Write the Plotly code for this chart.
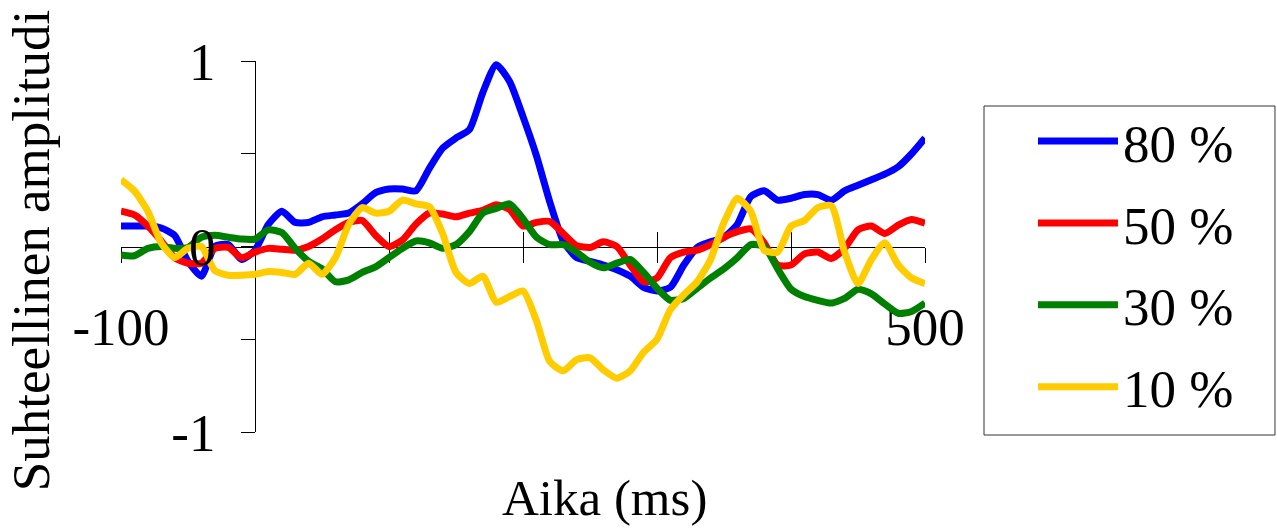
import plotly.graph_objects as go

# ---- data ----
time_ms = list(range(-100, 501, 10))

amp_80 = [0.11, 0.11, 0.11, 0.10, 0.06, -0.08, -0.16, 0.00, 0.01, -0.07,
          -0.02, 0.12, 0.19, 0.13, 0.13, 0.16, 0.17, 0.18, 0.23, 0.29,
          0.31, 0.31, 0.30, 0.42, 0.53, 0.585, 0.63, 0.83, 0.98, 0.89,
          0.70, 0.49, 0.24, 0.03, -0.06, -0.08, -0.10, -0.125, -0.16, -0.22,
          -0.24, -0.22, -0.10, -0.005, 0.025, 0.05, 0.12, 0.27, 0.30, 0.25,
          0.26, 0.28, 0.28, 0.25, 0.30, 0.33, 0.36, 0.39, 0.43, 0.50, 0.585]

amp_50 = [0.19, 0.17, 0.11, 0.03, -0.06, -0.09, -0.09, -0.01, -0.005, -0.06,
          -0.03, -0.01, -0.015, -0.02, 0.0, 0.04, 0.09, 0.13, 0.14, 0.06,
          0.0, 0.035, 0.12, 0.18, 0.175, 0.16, 0.18, 0.195, 0.225, 0.20,
          0.11, 0.13, 0.135, 0.07, 0.005, -0.005, 0.025, 0.0, -0.10, -0.19,
          -0.17, -0.06, -0.03, -0.02, 0.01, 0.05, 0.08, 0.095, 0.02, -0.10,
          -0.10, -0.04, -0.03, -0.065, -0.01, 0.09, 0.11, 0.07, 0.115, 0.145, 0.125]

amp_30 = [-0.045, -0.05, -0.01, 0.0, -0.01, -0.005, 0.05, 0.06, 0.05, 0.04,
          0.04, 0.09, 0.075, -0.01, -0.08, -0.12, -0.19, -0.18, -0.14, -0.11,
          -0.06, -0.01, 0.03, 0.02, -0.01, 0.01, 0.08, 0.18, 0.205, 0.23,
          0.15, 0.05, 0.01, 0.01, -0.03, -0.085, -0.115, -0.09, -0.07, -0.14,
          -0.225, -0.29, -0.28, -0.225, -0.17, -0.12, -0.06, 0.01, 0.0, -0.12,
          -0.23, -0.27, -0.29, -0.305, -0.28, -0.23, -0.255, -0.31, -0.36, -0.35, -0.305]

amp_10 = [0.36, 0.30, 0.19, 0.02, -0.06, -0.01, 0.0, -0.13, -0.155, -0.155,
          -0.15, -0.135, -0.14, -0.15, -0.09, -0.15, -0.06, 0.12, 0.21, 0.18,
          0.19, 0.25, 0.23, 0.215, 0.07, -0.14, -0.20, -0.16, -0.30, -0.27,
          -0.24, -0.40, -0.62, -0.67, -0.61, -0.60, -0.665, -0.71, -0.67, -0.57,
          -0.50, -0.34, -0.26, -0.19, -0.07, 0.13, 0.26, 0.19, -0.02, -0.03,
          0.11, 0.14, 0.21, 0.22, -0.03, -0.20, -0.07, 0.02, -0.10, -0.17, -0.20]

series_names = ["80 %", "50 %", "30 %", "10 %"]
series_values = [amp_80, amp_50, amp_30, amp_10]
series_colors = ["#0000FF", "#FF0000", "#008000", "#FFCC00"]
# the last series sits on the overlay axes (drawn on top, as in the reference)
series_axes = [("x", "y"), ("x", "y"), ("x", "y"), ("x2", "y2")]

x_tick_vals = [-100, 0, 100, 200, 300, 400, 500]
x_tick_text = ["-100", "", "", "", "", "", "500"]
y_tick_vals = [-1, -0.5, 0, 0.5, 1]
y_tick_text = ["-1", "", "0", "", "1"]

x_title = "Aika (ms)"
y_title = "Suhteellinen amplitudi"

FONT = "Liberation Serif, Times New Roman, serif"

fig = go.Figure()
for name, vals, col, (xa, ya) in zip(series_names, series_values, series_colors, series_axes):
    fig.add_trace(go.Scatter(
        x=time_ms, y=vals, name=name, mode="lines",
        xaxis=xa, yaxis=ya,
        line=dict(color=col, width=7, shape="spline", smoothing=0.6),
        legendgroup=name,
    ))

x_min, x_max = -100, 500
y_axis_pos = (0 - x_min) / (x_max - x_min)

fig.update_layout(
    width=1277, height=529,
    margin=dict(l=121, r=352, t=61, b=97),
    paper_bgcolor="white", plot_bgcolor="white",
    font=dict(family=FONT, size=53, color="black"),
    showlegend=True,
    legend=dict(
        x=1.1343, y=0.8947, xanchor="left", yanchor="top",
        borderwidth=0, bgcolor="rgba(0,0,0,0)",
        font=dict(family=FONT, size=53, color="black"),
        tracegroupgap=10, itemwidth=80,
    ),
    xaxis=dict(
        range=[x_min, x_max], anchor="free", position=0.5,
        showgrid=False, zeroline=False, showline=True,
        linecolor="black", linewidth=1,
        tickmode="array", tickvals=x_tick_vals, ticktext=x_tick_text,
        ticks="outside", ticklen=15, tickcolor="black", tickwidth=1,
        ticklabelstandoff=19,
        tickfont=dict(family=FONT, size=53, color="black"),
        layer="below traces", automargin=False,
    ),
    xaxis2=dict(
        range=[x_min, x_max], overlaying="x", anchor="free", position=0.5,
        showgrid=False, zeroline=False, showline=False,
        tickmode="array", tickvals=x_tick_vals, ticktext=[""] * len(x_tick_vals),
        ticks="inside", ticklen=15, tickcolor="black", tickwidth=1,
        layer="below traces", automargin=False,
    ),
    yaxis=dict(
        range=[-1, 1], anchor="free", position=y_axis_pos,
        showgrid=False, zeroline=False, showline=True,
        linecolor="black", linewidth=1,
        tickmode="array", tickvals=y_tick_vals, ticktext=[""] * len(y_tick_vals),
        ticks="outside", ticklen=14, tickcolor="black", tickwidth=1,
        layer="below traces", automargin=False,
    ),
    yaxis2=dict(
        range=[-1, 1], overlaying="y", anchor="free", position=y_axis_pos,
        showgrid=False, zeroline=False, showline=False,
        tickmode="array", tickvals=y_tick_vals, ticktext=y_tick_text,
        ticks="outside", ticklen=14, tickcolor="rgba(0,0,0,0)",
        ticklabelstandoff=15,
        tickfont=dict(family=FONT, size=53, color="black"),
        layer="above traces", automargin=False,
    ),
    shapes=[
        dict(type="rect", xref="paper", yref="paper",
             x0=1.0734, x1=1.4353, y0=-0.0081, y1=0.8787,
             line=dict(color="#333333", width=1), fillcolor="rgba(0,0,0,0)",
             layer="below"),
    ],
    annotations=[
        dict(text=x_title, xref="paper", yref="paper", x=0.601, y=-0.178,
             xanchor="center", yanchor="middle", showarrow=False,
             font=dict(family=FONT, size=51, color="black")),
        dict(text=y_title, xref="paper", yref="paper", x=-0.112, y=0.49,
             xanchor="center", yanchor="middle", showarrow=False, textangle=-90,
             font=dict(family=FONT, size=53, color="black")),
    ],
)

fig.write_html(
    "out.html",
    config={"displayModeBar": False},
    post_script="document.body.style.margin='0';document.body.style.overflow='hidden';",
)
